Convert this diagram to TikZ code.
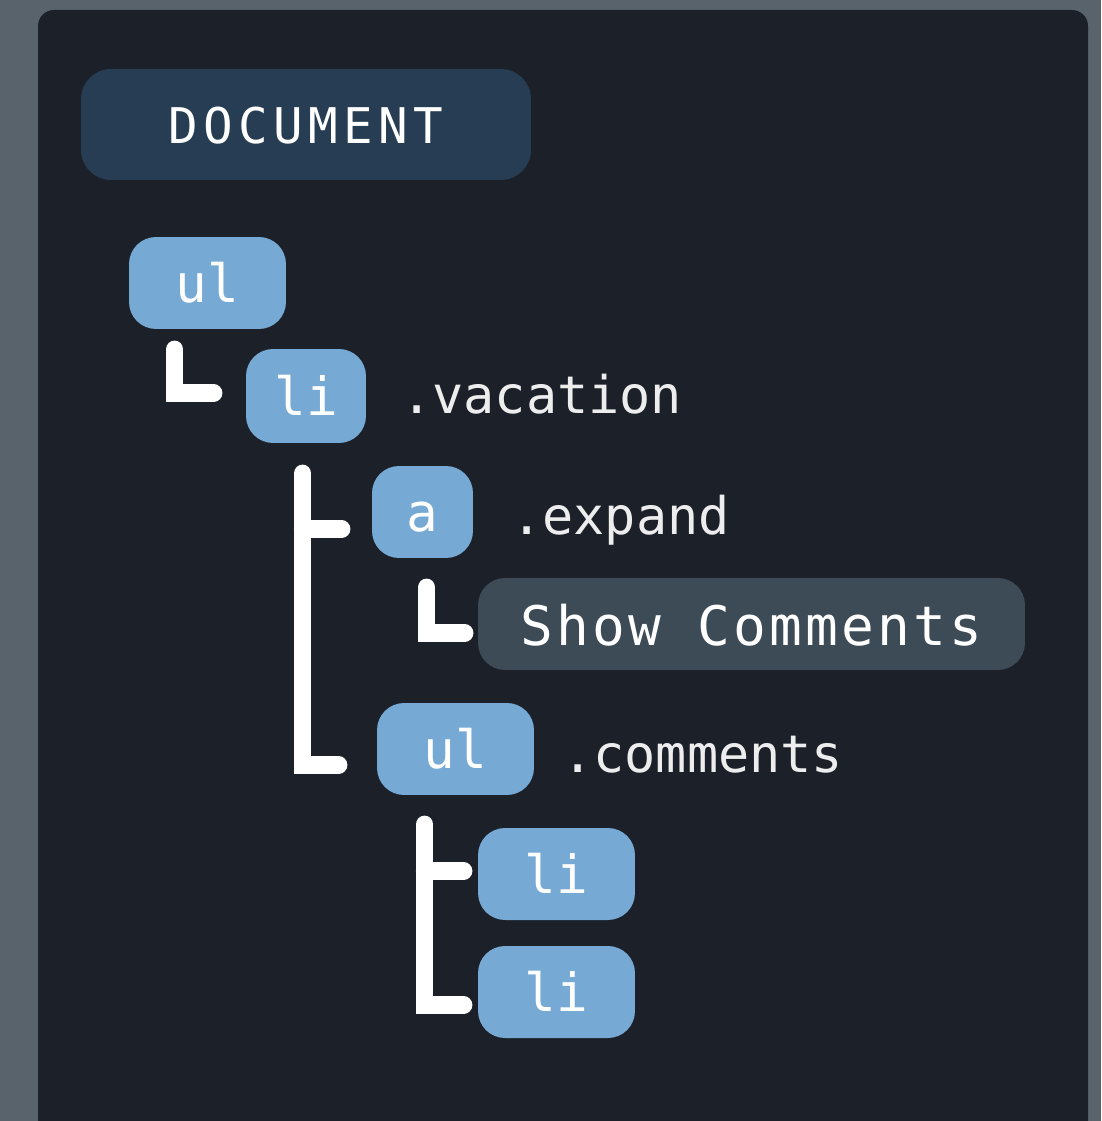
\documentclass[tikz,border=0pt]{standalone}
\usepackage{fontspec}
\usetikzlibrary{calc}

\newfontfamily\codefont{DejaVu Sans Mono}
\newfontfamily\titlefont[LetterSpace=11]{DejaVu Sans Mono}
\newfontfamily\btnfont[LetterSpace=6]{DejaVu Sans Mono}

\definecolor{pagegray}{HTML}{59636B}
\definecolor{panel}{HTML}{1B2029}
\definecolor{docblue}{HTML}{273D53}
\definecolor{tagblue}{HTML}{77A9D5}
\definecolor{btngray}{HTML}{3D4B57}
\definecolor{classtext}{HTML}{EDEDED}

\begin{document}
\begin{tikzpicture}[x=0.02cm, y=-0.02cm,
    box/.style={rounded corners=0.54cm, minimum height=1.84cm, inner sep=0pt,
      text=white, text height=22.5pt, text depth=0pt},
    tag/.style={box, fill=tagblue, font=\codefont\fontsize{30}{30}\selectfont},
    cls/.style={anchor=base west, inner sep=0pt, text=classtext,
      font=\codefont\fontsize{29.5}{30}\selectfont},
    brush/.style={draw=white, line width=0.35cm, line cap=round, line join=miter}]

  % page and panel
  \useasboundingbox (0,0) rectangle (1101,1121);
  \fill[pagegray] (0,0) rectangle (1101,1121);
  \fill[panel, rounded corners=0.32cm] (38,10) rectangle (1088,1140);

  % document header
  \node[box, fill=docblue, minimum width=9cm, minimum height=2.22cm,
    rounded corners=0.6cm, text height=22pt, font=\titlefont\fontsize{28}{30}\selectfont]
    (doc) at (306,124.5) {DOCUMENT};

  % tags
  \node[tag, minimum width=3.14cm] (ul1) at (207.5,283) {ul};
  \node[tag, minimum width=2.4cm, minimum height=1.88cm] (li1) at (306,396) {li};
  \node[tag, minimum width=2.02cm] (a) at (422.5,512) {a};
  \node[box, fill=btngray, minimum width=10.94cm, text height=24pt,
    font=\btnfont\fontsize{31}{32}\selectfont] (show) at (751.5,624) {Show Comments};
  \node[tag, minimum width=3.14cm] (ul2) at (455.5,749) {ul};
  \node[tag, minimum width=3.14cm] (li2) at (556.5,874) {li};
  \node[tag, minimum width=3.14cm] (li3) at (556.5,992) {li};

  % class names
  \node[cls] (vac) at (401,413) {.vacation};
  \node[cls] (exp) at (511,534) {.expand};
  \node[cls] (com) at (562,772) {.comments};

  % ul -> li
  \draw[brush] ($(ul1.south west)+(46,20)$) |- ($(li1.west)+(-32,-3)$);

  % li -> a, ul
  \coordinate (b2top) at ($(li1.south west)+(57,30)$);
  \coordinate (b2tick) at ($(a.west)+(-30,17)$);
  \draw[brush] (b2top) |- ($(ul2.west)+(-38,16)$);
  \draw[brush] (b2top |- b2tick) -- (b2tick);

  % a -> text
  \draw[brush] ($(a.south west)+(55,29)$) |- ($(show.west)+(-13,9)$);

  % ul -> li, li
  \coordinate (b3top) at ($(ul2.south west)+(48,29)$);
  \coordinate (b3tick) at ($(li2.west)+(-14,-3)$);
  \draw[brush] (b3top) |- ($(li3.west)+(-14,13)$);
  \draw[brush] (b3top |- b3tick) -- (b3tick);

\end{tikzpicture}
\end{document}
